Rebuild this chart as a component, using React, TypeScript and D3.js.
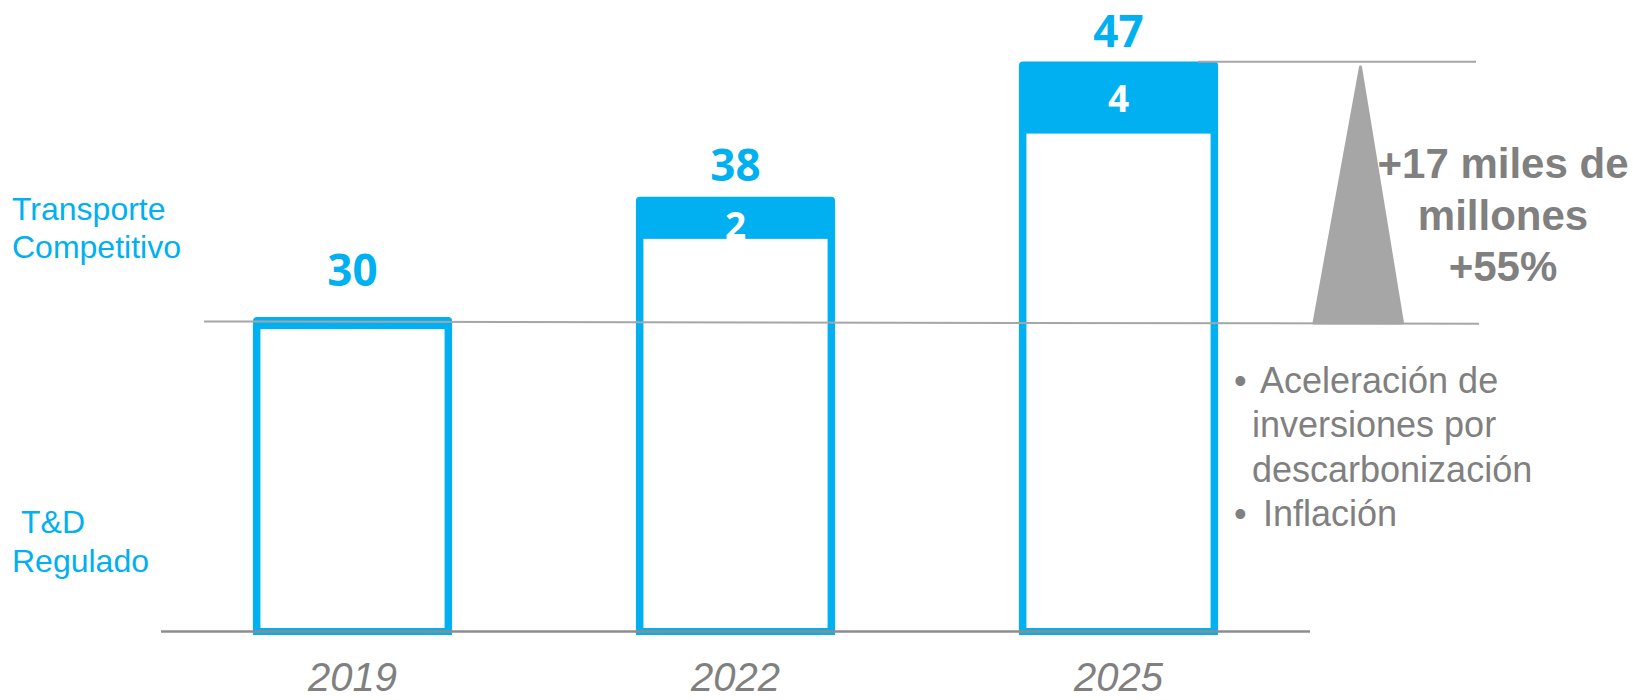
import React from "react";
import * as d3 from "d3";

const years = ["2019", "2022", "2025"];
const totals = [30, 38, 47];
const transporteCompetitivo = [0, 2, 4];
const seriesLabels = ["Transporte", "Competitivo"];
const seriesLabels2 = ["T&D", "Regulado"];
const deltaLines = ["+17 miles de", "millones", "+55%"];
const bullets = [
  { bullet: true, text: "Aceleración de" },
  { bullet: false, text: "inversiones por" },
  { bullet: false, text: "descarbonización" },
  { bullet: true, text: "Inflación" },
];

const W = 1633;
const H = 700;
const BLUE = "#00B0F0";
const GRAY_TXT = "#808080";
const GRAY_LINE = "#A6A6A6";
const SW = 7.5;
const labelGap = [31, 16, 14];

export default function App() {
  const x = d3
    .scaleBand<string>()
    .domain(years)
    .range([161, 1310])
    .paddingInner(0.48)
    .paddingOuter(0.24);
  const y = d3.scaleLinear().domain([9.1, 47]).range([631.5, 61.4]);
  const base = y(9.1);
  const bw = x.bandwidth();

  const y30 = y(totals[0]);
  const yTop = y(totals[totals.length - 1]);

  const triangle = d3.line()([
    [1360.5, yTop + 5.5],
    [1402.5, y30 + 5.8],
    [1314, y30 + 5.8],
  ]) + "Z";

  return (
    <div style={{ position: "absolute", left: 0, top: 0 }}>
      <svg width={W} height={H} style={{ display: "block" }}>
        <rect x={0} y={0} width={W} height={H} fill="#fff" />
        {years.map((yr, i) => {
          const x0 = x(yr)!;
          const yt = y(totals[i]);
          const bandBottom = y(totals[i] - transporteCompetitivo[i]) + 12;
          const cx = x0 + bw / 2;
          return (
            <g key={yr}>
              <path
                d={`M${x0},${base + 3.5} V${yt + 4} Q${x0},${yt} ${x0 + 4},${yt} H${x0 + bw - 4} Q${x0 + bw},${yt} ${x0 + bw},${yt + 4} V${base + 3.5} Z`}
                fill={BLUE}
              />
              {transporteCompetitivo[i] > 0 && (
                <text
                  x={cx}
                  y={(yt + bandBottom) / 2 + (i === 1 ? 21.5 : 14.5)}
                  textAnchor="middle"
                  fill="#fff"
                  fontFamily="'Open Sans', Arial, sans-serif"
                  fontWeight={700}
                  fontSize={37}
                >
                  {transporteCompetitivo[i]}
                </text>
              )}
              <rect
                x={x0 + SW}
                y={bandBottom}
                width={bw - 2 * SW}
                height={base - 3.5 - bandBottom}
                fill="#fff"
              />
              <text
                x={cx}
                y={yt - labelGap[i]}
                textAnchor="middle"
                fill={BLUE}
                fontFamily="'Open Sans', Arial, sans-serif"
                fontWeight={700}
                fontSize={44}
              >
                {totals[i]}
              </text>
              <text
                x={cx}
                y={691}
                textAnchor="middle"
                fill={GRAY_TXT}
                fontFamily="'Liberation Sans', Arial, sans-serif"
                fontStyle="italic"
                fontSize={40}
              >
                {yr}
              </text>
            </g>
          );
        })}

        {/* reference lines */}
        <line x1={204} y1={y30 + 4.4} x2={1479} y2={y30 + 6.6} stroke={GRAY_LINE} strokeWidth={2} />
        <line x1={1198} y1={yTop + 0.3} x2={1476} y2={yTop + 0.3} stroke={GRAY_LINE} strokeWidth={2} />
        <line x1={161} y1={base} x2={1310} y2={base} stroke="#8C8C8C" strokeWidth={2.5} />

        <path d={triangle} fill={GRAY_LINE} stroke={GRAY_LINE} strokeWidth={3} strokeLinejoin="round" />

        {deltaLines.map((t, i) => (
          <text
            key={t}
            x={1503}
            y={178 + i * 51.5}
            textAnchor="middle"
            fill={GRAY_TXT}
            fontFamily="'Liberation Sans', Arial, sans-serif"
            fontWeight={700}
            fontSize={42}
          >
            {t}
          </text>
        ))}

        {bullets.map((b, i) => (
          <g key={b.text}>
            {b.bullet && (
              <text
                x={1234}
                y={393 + i * 44.3}
                fill={GRAY_TXT}
                fontFamily="'Liberation Sans', Arial, sans-serif"
                fontSize={36}
              >
                •
              </text>
            )}
            <text
              x={b.bullet ? (i === 0 ? 1260 : 1263) : 1252}
              y={393 + i * 44.3}
              fill={GRAY_TXT}
              fontFamily="'Liberation Sans', Arial, sans-serif"
              fontSize={36}
            >
              {b.text}
            </text>
          </g>
        ))}

        {seriesLabels.map((t, i) => (
          <text
            key={t}
            x={12}
            y={220 + i * 38}
            fill={BLUE}
            fontFamily="'Liberation Sans', Arial, sans-serif"
            fontSize={32}
          >
            {t}
          </text>
        ))}
        {seriesLabels2.map((t, i) => (
          <text
            key={t}
            x={i === 0 ? 21 : 12}
            y={533 + i * 38.5}
            fill={BLUE}
            fontFamily="'Liberation Sans', Arial, sans-serif"
            fontSize={32}
          >
            {t}
          </text>
        ))}
      </svg>
    </div>
  );
}
